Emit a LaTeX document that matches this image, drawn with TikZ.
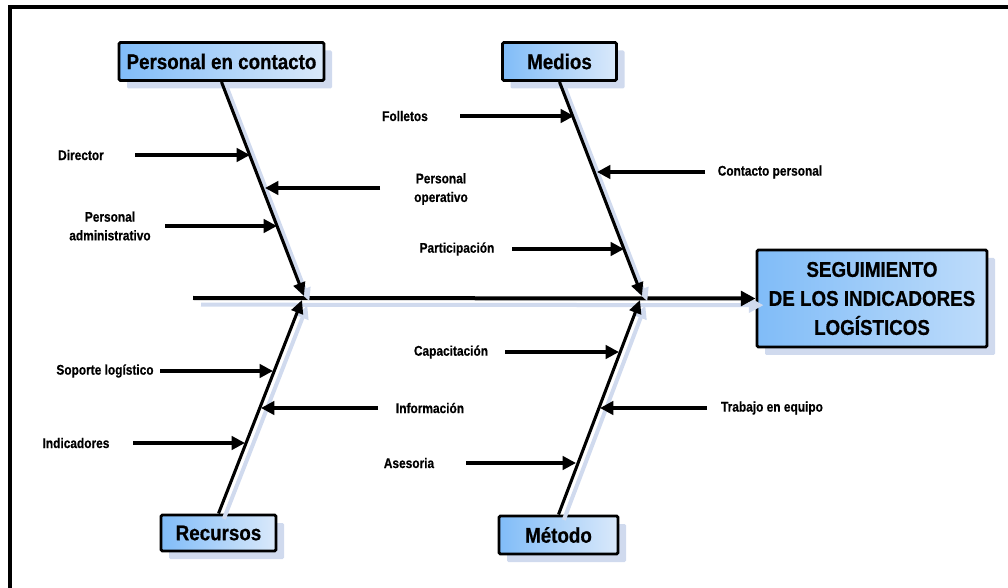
\documentclass[tikz,border=0pt]{standalone}
\usepackage{fontspec}
\setmainfont{Liberation Sans}
\newfontfamily\nf[FakeStretch=0.88,FakeBold=0.6]{Liberation Sans}
\newfontfamily\labfont[FakeStretch=0.85,FakeBold=0.5]{Liberation Sans}
\usetikzlibrary{arrows.meta,shadows}
\definecolor{shad}{RGB}{208,218,238}
\definecolor{boxL}{RGB}{128,188,248}
\definecolor{boxR}{RGB}{218,233,250}
\definecolor{mainR}{RGB}{190,220,250}
\begin{document}
\begin{tikzpicture}[x=0.75pt,y=-0.75pt,
  box/.style={draw=black, line width=2.2pt, rounded corners=1pt,
    left color=boxL, right color=boxR,
    general shadow={fill=shad, shadow xshift=6pt, shadow yshift=-6pt},
    inner sep=0pt, align=center, font=\nf\bfseries\fontsize{16}{19}\selectfont},
  lab/.style={font=\labfont\bfseries\fontsize{10.5}{14}\selectfont, align=center, inner sep=0pt},
  rib/.style={line width=2.3pt, -{Triangle[length=10pt,width=9pt]},
    preaction={draw=shad, line width=3pt, transform canvas={shift={(4pt,-4pt)}}}},
  spine/.style={line width=3pt, -{Triangle[length=11pt,width=11pt]},
    preaction={draw=shad, line width=3pt, transform canvas={shift={(6pt,-5pt)}}}},
  cause/.style={line width=2.6pt, -{Triangle[length=10pt,width=10pt]}},
]
\useasboundingbox (0,0) rectangle (1008,588);
% frame
\draw[line width=2.5pt] (10,588) -- (10,7) -- (1008,7);

% boxes
\node[box, minimum width=153.75pt, minimum height=28.5pt] (pc) at (221.5,61.5) {Personal en contacto};
\node[box, minimum width=85.5pt, minimum height=28.5pt] (me) at (559.5,61.5) {Medios};
\node[box, minimum width=86.25pt, minimum height=27pt] (rec) at (218.5,533) {Recursos};
\node[box, minimum width=89.25pt, minimum height=28.5pt] (met) at (558.5,535) {Método};
\node[box, left color=boxL, right color=mainR, minimum width=172.5pt, minimum height=72.75pt,
  font=\nf\bfseries\fontsize{16}{21.75}\selectfont] (main) at (872,298.5)
  {SEGUIMIENTO\\DE LOS INDICADORES\\LOGÍSTICOS};

% spine
\coordinate (sL) at (193,298);
\draw[spine] (sL) -- (main.west);

% rib junctions
\coordinate (j1a) at (304,296);
\coordinate (j1b) at (302,300);
\coordinate (j2a) at (642,296);
\coordinate (j2b) at (640,300);
\draw[rib] (pc.south) -- (j1a);
\draw[rib] (rec.north) -- (j1b);
\draw[rib] (me.south) -- (j2a);
\draw[rib] (met.north) -- (j2b);

% cause arrows: start and end coordinates
\coordinate (a1s) at (135,155); \coordinate (a1e) at (250,155);
\coordinate (a2s) at (380,188); \coordinate (a2e) at (265,188);
\coordinate (a3s) at (165,226); \coordinate (a3e) at (277,226);
\coordinate (b1s) at (460,116); \coordinate (b1e) at (574,116);
\coordinate (b2s) at (705,172); \coordinate (b2e) at (597,172);
\coordinate (b3s) at (512,249); \coordinate (b3e) at (624,249);
\coordinate (c1s) at (160,371); \coordinate (c1e) at (273,371);
\coordinate (c2s) at (378,408); \coordinate (c2e) at (261,408);
\coordinate (c3s) at (133,443); \coordinate (c3e) at (245,443);
\coordinate (d1s) at (505,352); \coordinate (d1e) at (619,352);
\coordinate (d2s) at (707,408); \coordinate (d2e) at (600,408);
\coordinate (d3s) at (466,463); \coordinate (d3e) at (576,463);

\foreach \p in {a1,a2,a3,b1,b2,b3,c1,c2,c3,d1,d2,d3}
  \draw[cause] (\p s) -- (\p e);

% labels
\node[lab] (l1) at (81,155) {Director};
\node[lab] (l2) at (441,189) {Personal\\operativo};
\node[lab] (l3) at (110,226) {Personal\\administrativo};
\node[lab] (l4) at (405,116) {Folletos};
\node[lab] (l5) at (770,172) {Contacto personal};
\node[lab] (l6) at (457,249) {Participación};
\node[lab] (l7) at (105,371) {Soporte logístico};
\node[lab] (l8) at (430,408) {Información};
\node[lab] (l9) at (76,443) {Indicadores};
\node[lab] (l10) at (451,352) {Capacitación};
\node[lab] (l11) at (772,408) {Trabajo en equipo};
\node[lab] (l12) at (409,463) {Asesoria};
\end{tikzpicture}
\end{document}
